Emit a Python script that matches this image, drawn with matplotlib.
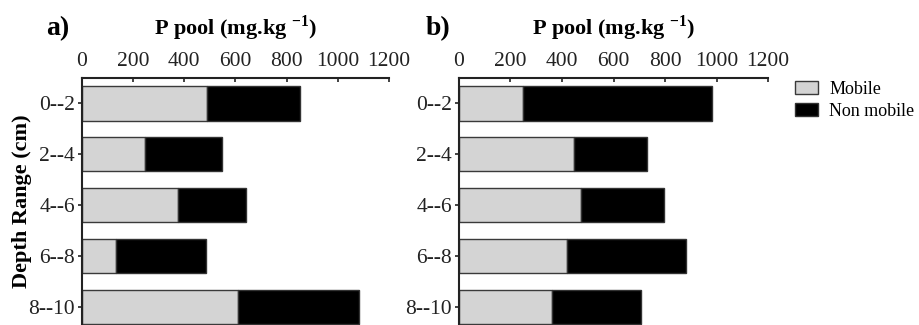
import matplotlib
matplotlib.use("Agg")
import matplotlib.pyplot as plt
import numpy as np

depths = ["0--2", "2--4", "4--6", "6--8", "8--10"]
mobile_a = [487, 245, 374, 134, 610]
total_a = [852, 547, 640, 486, 1083]
mobile_b = [249, 447, 474, 418, 362]
total_b = [983, 729, 795, 881, 708]
xticks = [0, 200, 400, 600, 800, 1000, 1200]

plt.rcParams['font.family'] = ['Liberation Serif', 'DejaVu Serif']
plt.rcParams['mathtext.fontset'] = 'custom'
plt.rcParams['mathtext.rm'] = 'Liberation Serif'
plt.rcParams['mathtext.bf'] = 'Liberation Serif:bold'

W, H = 920, 325
fig = plt.figure(figsize=(W / 100, H / 100), dpi=100)

def make_ax(left_px, right_px):
    top_px = 78
    ax = fig.add_axes([left_px / W, 0, (right_px - left_px) / W, (H - top_px) / H])
    return ax

def draw(ax, mobile, total):
    y = np.arange(len(depths))
    non = np.array(total) - np.array(mobile)
    ax.barh(y, mobile, height=0.67, color='#d4d4d4', edgecolor='#3a3a3a', linewidth=1.0, label='Mobile')
    ax.barh(y, non, left=mobile, height=0.67, color='black', edgecolor='#333333', linewidth=1.0, label='Non mobile')
    ax.set_xlim(0, 1200)
    ax.set_ylim(4.35, -0.5)
    ax.set_yticks(y)
    ax.set_yticklabels(depths, fontsize=15.5)
    ax.set_xticks(xticks)
    ax.set_xticklabels([str(t) for t in xticks], fontsize=15.5)
    ax.xaxis.tick_top()
    ax.tick_params(axis='x', direction='in', length=3, width=1.2, pad=5, colors='#222222', labelcolor='#222222')
    ax.tick_params(axis='y', direction='out', length=3, width=1.2, pad=2, colors='#222222', labelcolor='#222222')
    for s in ['right', 'bottom']:
        ax.spines[s].set_visible(False)
    for s in ['left', 'top']:
        ax.spines[s].set_linewidth(1.5)
        ax.spines[s].set_color('#222222')
    ax.set_title(r'P pool (mg.kg $^{\mathbf{-1}}$)', fontsize=16, fontweight='bold', pad=31)
    return ax

ax1 = make_ax(82, 389)
draw(ax1, mobile_a, total_a)
ax2 = make_ax(459, 768)
draw(ax2, mobile_b, total_b)

ax1.set_ylabel('Depth Range (cm)', fontsize=16, fontweight='bold')
ax1.yaxis.set_label_coords(-50 / 307, (H - 201) / (H - 78))

fig.text(58 / W, 1 - 29 / H, 'a)', fontsize=20, fontweight='bold', ha='center', va='center')
fig.text(438 / W, 1 - 29 / H, 'b)', fontsize=20, fontweight='bold', ha='center', va='center')

handles, labels = ax2.get_legend_handles_labels()
fig.legend(handles, labels, loc='upper left', bbox_to_anchor=(795 / W, 1 - 81 / H),
           frameon=False, fontsize=13, handlelength=1.3, handleheight=0.75,
           handletextpad=0.6, labelspacing=0.25, borderaxespad=0, borderpad=0)

fig.savefig('out.png', dpi=100)
